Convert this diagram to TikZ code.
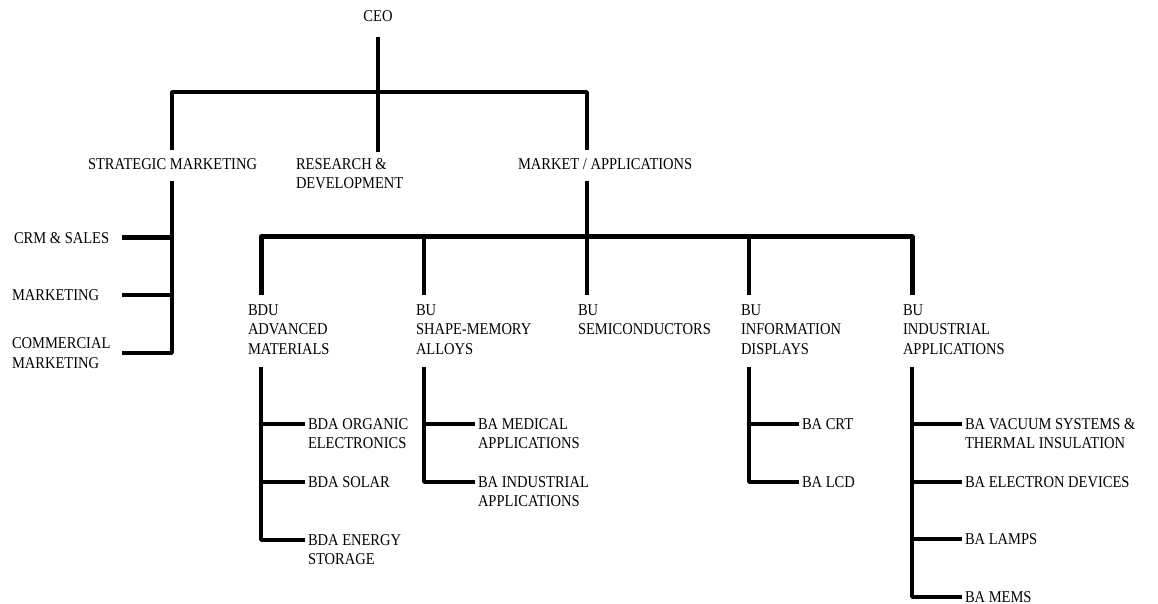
\documentclass[tikz,border=0pt]{standalone}
\usepackage{fontspec}
\newfontfamily\lf{Liberation Serif}[FakeStretch=0.88]
\begin{document}
\begin{tikzpicture}[x=1bp,y=-1bp,
  ln/.style={line width=3.6bp, line join=round},
  thk/.style={line width=5bp, line join=round},
  lbl/.style={inner sep=0pt, outer sep=0pt, align=left, font=\lf\fontsize{16.5bp}{19.5bp}\selectfont}]
\fill[white] (0,0) rectangle (1158,604);
\useasboundingbox (0,0) rectangle (1158,604);
% columns and junctions
\coordinate (tb) at (378,92);
\coordinate (xL) at (122,0);
\coordinate (x1) at (172,0);
\coordinate (x3) at (587,0);
\coordinate (bb) at (587,237);
\coordinate (u1) at (261,0);
\coordinate (u2) at (424,0);
\coordinate (u4) at (749,0);
\coordinate (u5) at (912,0);
% nodes
\node[lbl] (ceo) at (378,16) {CEO};
\node[lbl, anchor=west] (sm) at (88,164) {STRATEGIC MARKETING};
\node[lbl, anchor=north west] (rd) at (296,158.5) {RESEARCH \&\\DEVELOPMENT};
\node[lbl, anchor=west] (ma) at (518,164) {MARKET / APPLICATIONS};
\node[lbl, anchor=west] (crm) at (14,238) {CRM \& SALES};
\node[lbl, anchor=west] (mkt) at (12,295) {MARKETING};
\node[lbl, anchor=west] (com) at (12,353) {COMMERCIAL\\MARKETING};
\node[lbl, anchor=north west] (bdu) at (248,304.5) {BDU\\ADVANCED\\MATERIALS};
\node[lbl, anchor=north west] (bus) at (416,304.5) {BU\\SHAPE-MEMORY\\ALLOYS};
\node[lbl, anchor=north west] (bsc) at (578,304.5) {BU\\SEMICONDUCTORS};
\node[lbl, anchor=north west] (bid) at (741,304.5) {BU\\INFORMATION\\DISPLAYS};
\node[lbl, anchor=north west] (bia) at (903,304.5) {BU\\INDUSTRIAL\\APPLICATIONS};
\node[lbl, anchor=north west] (org) at (308,418.5) {BDA ORGANIC\\ELECTRONICS};
\node[lbl, anchor=west] (sol) at (308,482) {BDA SOLAR};
\node[lbl, anchor=north west] (ene) at (308,534.5) {BDA ENERGY\\STORAGE};
\node[lbl, anchor=north west] (med) at (478,418.5) {BA MEDICAL\\APPLICATIONS};
\node[lbl, anchor=north west] (ind) at (478,476.5) {BA INDUSTRIAL\\APPLICATIONS};
\node[lbl, anchor=west] (crt) at (802,424) {BA CRT};
\node[lbl, anchor=west] (lcd) at (802,482) {BA LCD};
\node[lbl, anchor=north west] (vac) at (965,418.5) {BA VACUUM SYSTEMS \&\\THERMAL INSULATION};
\node[lbl, anchor=west] (ele) at (965,482) {BA ELECTRON DEVICES};
\node[lbl, anchor=west] (lam) at (965,539) {BA LAMPS};
\node[lbl, anchor=west] (mem) at (965,597) {BA MEMS};
% first-line anchors of multi-line nodes
\coordinate (org1) at ([yshift=-5.5bp]org.north west);
\coordinate (ene1) at ([yshift=-5.5bp]ene.north west);
\coordinate (med1) at ([yshift=-5.5bp]med.north west);
\coordinate (ind1) at ([yshift=-5.5bp]ind.north west);
\coordinate (vac1) at ([yshift=-5.5bp]vac.north west);
% top level
\draw[ln, shorten <=15bp] (ceo.south) -- (tb);
\draw[ln, shorten >=6bp] (tb) -- (rd.north -| tb);
\draw[ln, shorten <=8bp, shorten >=8bp] (sm.north -| x1) |- (tb) -| (ma.north -| x3);
% strategic marketing
\draw[ln, shorten <=11bp] (sm.south -| x1) |- (com.east -| xL);
\draw[thk] (crm.east -| xL) -- (crm.east -| x1);
\draw[ln] (mkt.east -| xL) -- (mkt.east -| x1);
% market / applications
\draw[ln, shorten <=11bp] (ma.south -| x3) -- (bb);
\draw[thk, shorten <=9.5bp, shorten >=9.5bp] (bdu.north -| u1) |- (bb) -| (bia.north -| u5);
\draw[ln, shorten >=9.5bp] (bb -| u2) -- (bus.north -| u2);
\draw[ln, shorten >=9.5bp] (bb) -- (bsc.north -| x3);
\draw[ln, shorten >=9.5bp] (bb -| u4) -- (bid.north -| u4);
% BDU advanced materials
\draw[ln, shorten <=13bp, shorten >=3bp] (bdu.south -| u1) |- (ene1);
\draw[ln, shorten >=3bp] (org1 -| u1) -- (org1);
\draw[ln, shorten >=3bp] (sol.west -| u1) -- (sol.west);
% BU shape-memory alloys
\draw[ln, shorten <=13bp, shorten >=3bp] (bus.south -| u2) |- (ind1);
\draw[ln, shorten >=3bp] (med1 -| u2) -- (med1);
% BU information displays
\draw[ln, shorten <=13bp, shorten >=3bp] (bid.south -| u4) |- (lcd.west);
\draw[ln, shorten >=3bp] (crt.west -| u4) -- (crt.west);
% BU industrial applications
\draw[ln, shorten <=13bp, shorten >=3bp] (bia.south -| u5) |- (mem.west);
\draw[ln, shorten >=3bp] (vac1 -| u5) -- (vac1);
\draw[ln, shorten >=3bp] (ele.west -| u5) -- (ele.west);
\draw[ln, shorten >=3bp] (lam.west -| u5) -- (lam.west);
\end{tikzpicture}
\end{document}
